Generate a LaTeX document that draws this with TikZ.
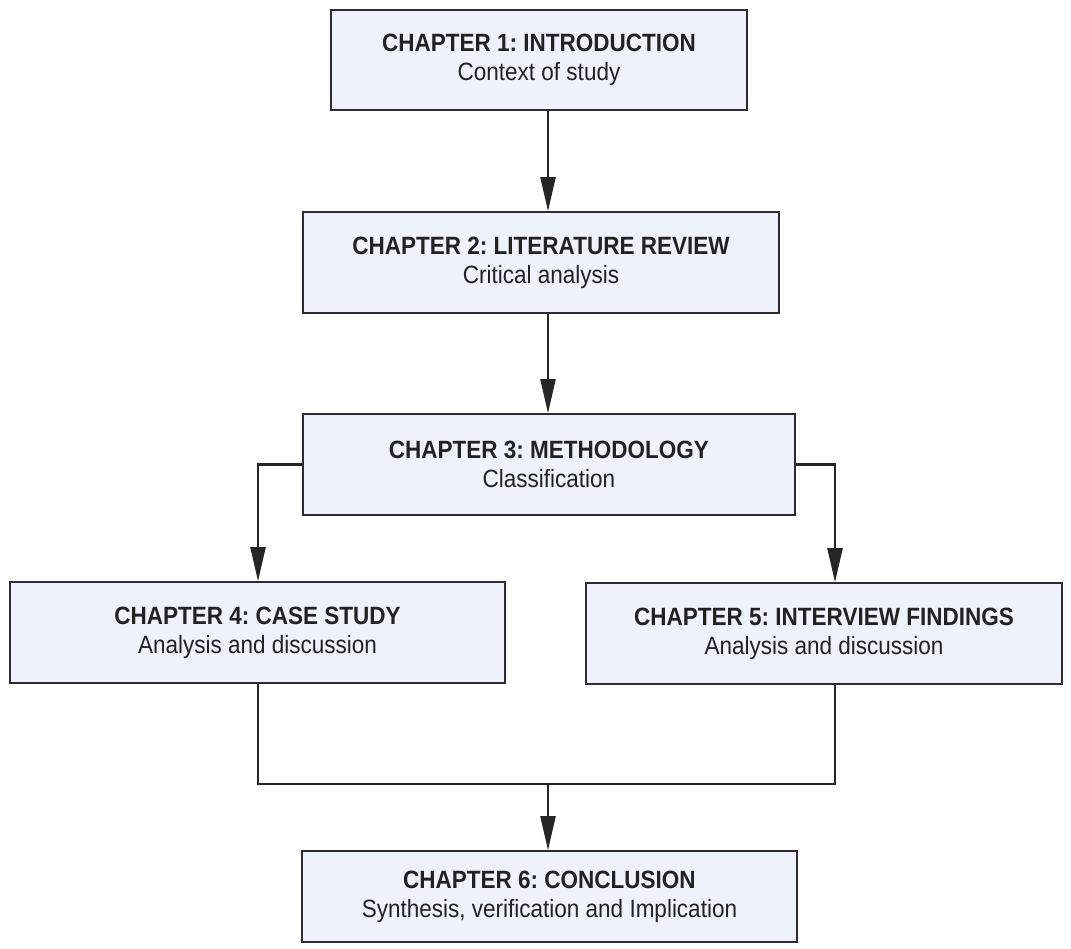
\documentclass[tikz,border=0pt]{standalone}
\usepackage{fontspec}
\setmainfont{Liberation Sans}[FakeStretch=0.9]
\usetikzlibrary{arrows.meta}
\definecolor{boxfill}{HTML}{EEF2FA}
\definecolor{boxline}{HTML}{2E2A33}
\definecolor{wireline}{HTML}{262626}
\definecolor{inktext}{HTML}{222222}
\frenchspacing
\begin{document}
\begin{tikzpicture}[x=1pt,y=-1pt,
  chapter/.style={draw=boxline, line width=1.6pt, fill=boxfill, rectangle,
    inner sep=0pt, align=center, text=inktext,
    font=\fontsize{25}{29}\selectfont},
  wire/.style={draw=wireline, line width=2.2pt},
  arr/.style={wire, -{Triangle[length=34pt, width=15pt]}}]
\useasboundingbox (0,0) rectangle (1071,948);
\fill[white] (0,0) rectangle (1071,948);

% chapter boxes
\node[chapter, minimum width=416pt, minimum height=100pt] (c1) at (539,60)
  {\textbf{CHAPTER 1: INTRODUCTION}\\Context of study};
\node[chapter, minimum width=476pt, minimum height=101pt] (c2) at (541,262.5)
  {\textbf{CHAPTER 2: LITERATURE REVIEW}\\Critical analysis};
\node[chapter, minimum width=492pt, minimum height=101pt] (c3) at (549,464.5)
  {\textbf{CHAPTER 3: METHODOLOGY}\\Classification};
\node[chapter, minimum width=495pt, minimum height=101pt] (c4) at (257.5,632.5)
  {\textbf{CHAPTER 4: CASE STUDY}\\Analysis and discussion};
\node[chapter, minimum width=476pt, minimum height=101pt] (c5) at (824,633.5)
  {\textbf{CHAPTER 5: INTERVIEW FINDINGS}\\Analysis and discussion};
\node[chapter, minimum width=495pt, minimum height=91pt] (c6) at (549.5,896.5)
  {\textbf{CHAPTER 6: CONCLUSION}\\Synthesis, verification and Implication};

% routing columns and the merge point
\coordinate (mid) at (548,0);
\coordinate (lx) at (258,0);
\coordinate (rx) at (835,0);
\coordinate (join) at (548,784);

% connectors
\draw[arr] (c1.south -| mid) -- (c2.north -| mid);
\draw[arr] (c2.south -| mid) -- (c3.north -| mid);
\draw[arr] (c3.west) -| (c4.north -| lx);
\draw[arr] (c3.east) -| (c5.north -| rx);
\draw[wire] (c4.south -| lx) |- (join) -| (c5.south -| rx);
\draw[arr] (join) -- (c6.north -| mid);
\end{tikzpicture}
\end{document}
